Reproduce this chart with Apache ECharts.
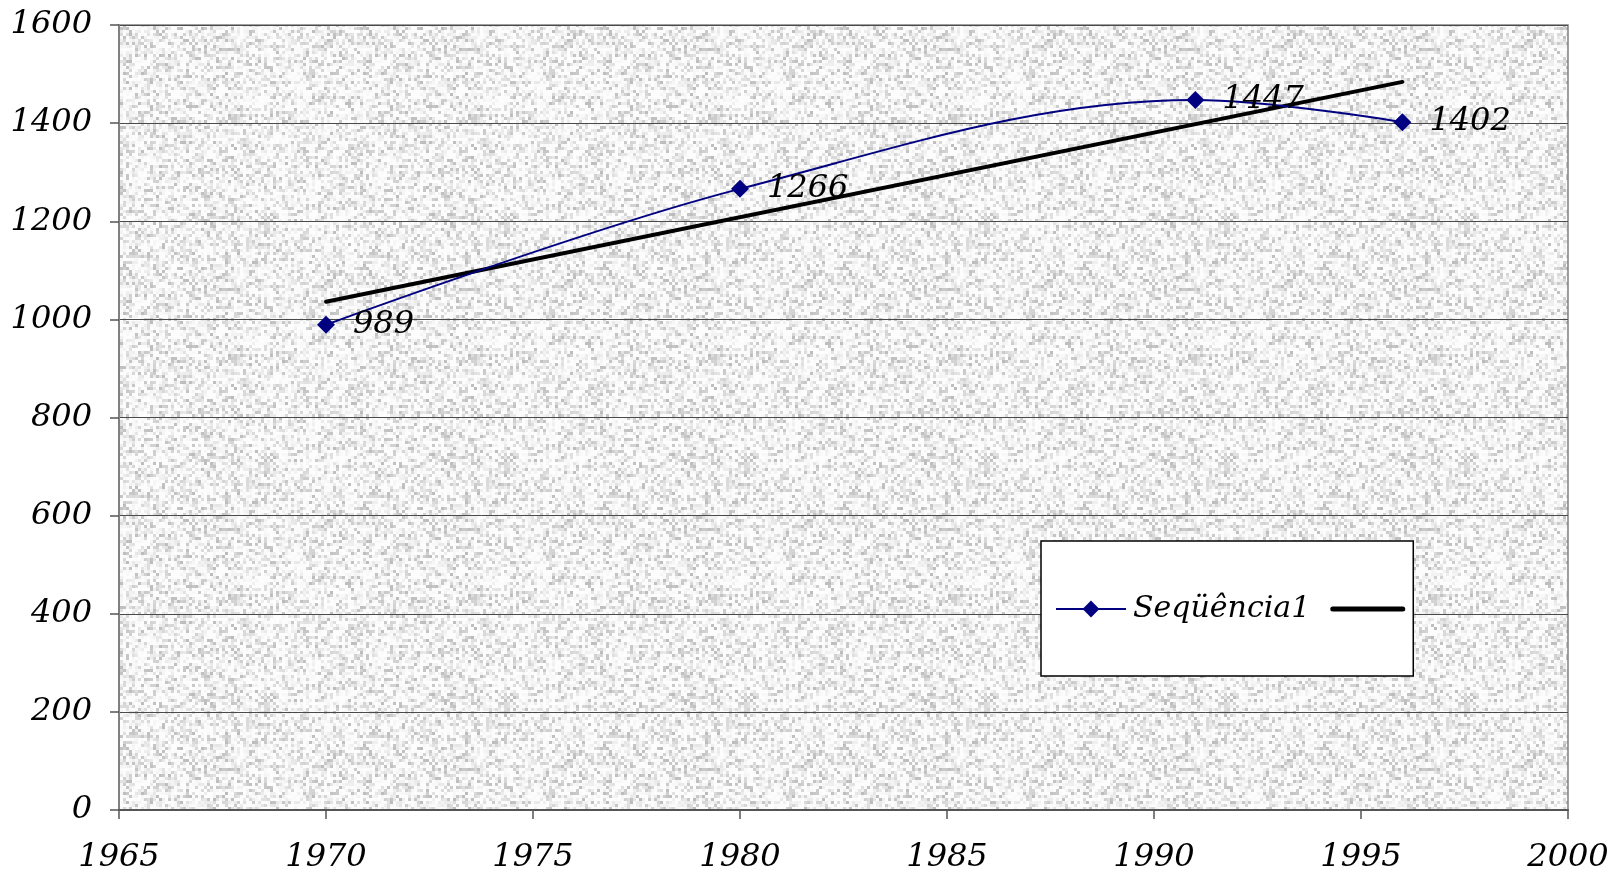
<!DOCTYPE html>
<html>
<head>
<meta charset="utf-8">
<script src="https://cdn.jsdelivr.net/npm/echarts@6/dist/echarts.min.js"></script>
<style>
  html, body { margin: 0; padding: 0; background: #ffffff; }
  #chart { width: 1615px; height: 877px; }
</style>
</head>
<body>
<div id="chart"></div>
<script>
// Observed values
const years = [1970, 1980, 1991, 1996];
const values = [989, 1266, 1447, 1402];
// Linear trend endpoints
const trendYears = [1970, 1996];
const trendValues = [1036, 1484];
// Axis ticks
const xTicks = [1965, 1970, 1975, 1980, 1985, 1990, 1995, 2000];
const yTicks = [0, 200, 400, 600, 800, 1000, 1200, 1400, 1600];

const seriesName = 'Seqüência1';
const trendName = 'Linear (Seqüência1)';
const FONT = 'DejaVu Serif';

// Granite-like fill for the plot area (deterministic speckle tile)
function graniteTile() {
  const size = 240, cell = 3;
  const c = document.createElement('canvas');
  c.width = size; c.height = size;
  const ctx = c.getContext('2d');
  function hash(i, j) {
    const s = Math.sin(i * 127.1 + j * 311.7) * 43758.5453;
    return s - Math.floor(s);
  }
  for (let y = 0; y < size; y += cell) {
    for (let x = 0; x < size; x += cell) {
      const h = hash(x / cell, y / cell);
      const v = Math.round(253 - Math.pow(h, 3) * 66);
      ctx.fillStyle = 'rgb(' + v + ',' + v + ',' + v + ')';
      ctx.fillRect(x, y, cell, cell);
    }
  }
  return c;
}

const chart = echarts.init(document.getElementById('chart'), null, { renderer: 'canvas' });

const labelStyle = {
  fontFamily: FONT,
  fontStyle: 'italic',
  fontSize: 32,
  color: '#000000'
};

chart.setOption({
  animation: false,
  backgroundColor: '#ffffff',
  grid: {
    left: 119,
    top: 25,
    right: 47,
    bottom: 67,
    show: true,
    backgroundColor: { image: graniteTile(), repeat: 'repeat' },
    borderColor: '#808080',
    borderWidth: 1.5
  },
  legend: {
    show: true,
    left: 1041,
    top: 541,
    orient: 'horizontal',
    backgroundColor: '#ffffff',
    borderColor: '#000000',
    borderWidth: 1.5,
    padding: [53, 8, 52, 14],
    itemWidth: 70,
    itemHeight: 21,
    itemGap: 20,
    data: [
      { name: seriesName },
      {
        name: trendName,
        itemStyle: { color: 'rgba(0,0,0,0)', borderWidth: 0, opacity: 0 },
        lineStyle: { color: '#000000', width: 5, cap: 'round' }
      }
    ],
    formatter: function (name) { return name === trendName ? '' : name; },
    textStyle: Object.assign({}, labelStyle, { fontSize: 30, padding: [0, 0, 0, 2] })
  },
  xAxis: {
    type: 'value',
    min: xTicks[0],
    max: xTicks[xTicks.length - 1],
    interval: 5,
    axisLine: { show: true, onZero: false, lineStyle: { color: '#555555', width: 2 } },
    axisTick: { show: true, length: 9, lineStyle: { color: '#555555', width: 1.5 } },
    splitLine: { show: false },
    axisLabel: Object.assign({}, labelStyle, { margin: 32, formatter: v => String(v) })
  },
  yAxis: {
    type: 'value',
    min: yTicks[0],
    max: yTicks[yTicks.length - 1],
    interval: 200,
    axisLine: { show: true, onZero: false, lineStyle: { color: '#808080', width: 2 } },
    axisTick: { show: true, length: 9, lineStyle: { color: '#555555', width: 1.5 } },
    splitLine: { show: true, lineStyle: { color: '#4a4a4a', width: 1 } },
    axisLabel: Object.assign({}, labelStyle, { margin: 27, formatter: v => String(v) })
  },
  series: [
    {
      name: seriesName,
      type: 'line',
      smooth: 0.35,
      data: years.map((y, i) => [y, values[i]]),
      lineStyle: { color: '#000080', width: 2 },
      itemStyle: { color: '#000080' },
      symbol: 'diamond',
      symbolSize: 18,
      z: 3,
      label: Object.assign({
        show: true,
        position: 'right',
        distance: 18,
        formatter: p => String(p.value[1])
      }, labelStyle)
    },
    {
      name: trendName,
      type: 'line',
      data: trendYears.map((y, i) => [y, trendValues[i]]),
      lineStyle: { color: '#000000', width: 4, cap: 'round' },
      itemStyle: { color: '#000000' },
      symbol: 'none',
      z: 2
    }
  ]
});
</script>
</body>
</html>
